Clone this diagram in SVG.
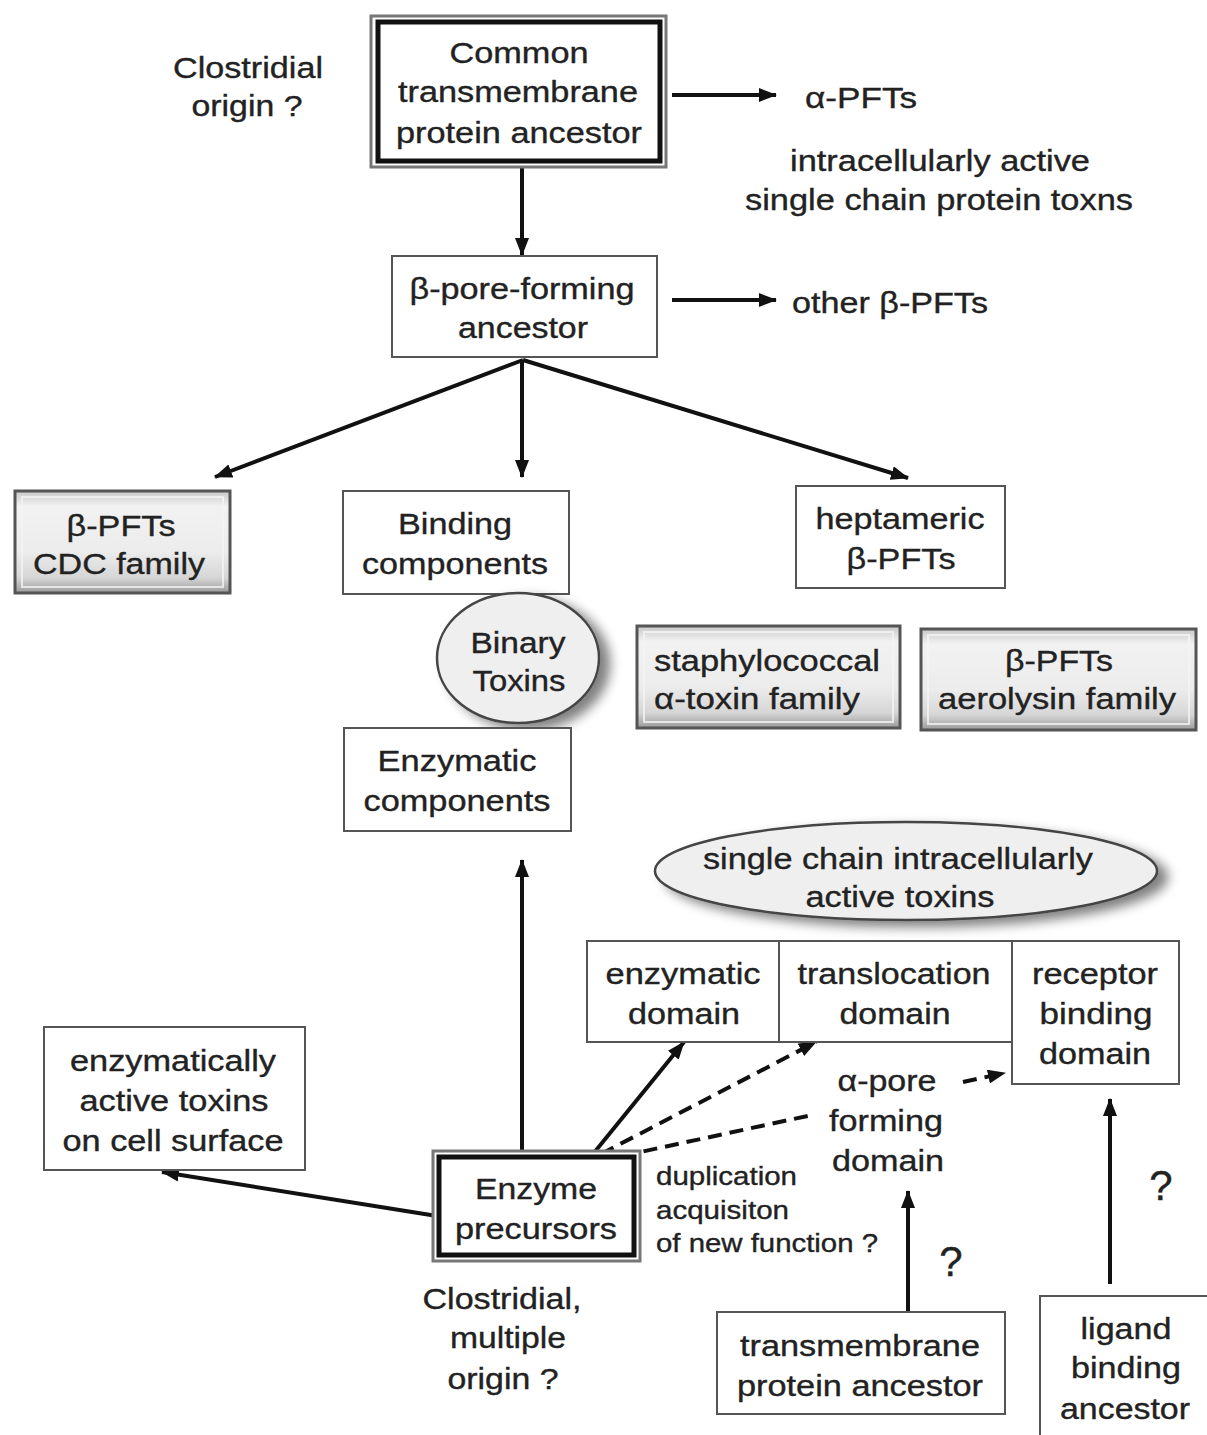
<svg xmlns="http://www.w3.org/2000/svg" width="1207" height="1435" viewBox="0 0 1207 1435">
<style>
text{font-family:"Liberation Sans",Arial,sans-serif;font-size:29px;fill:#222;text-anchor:middle;stroke:#222;stroke-width:0.35}
.s{font-size:25px;text-anchor:start}
.l{text-anchor:start}
.q{font-size:42px}
.box{fill:#fff;stroke:#555;stroke-width:2}
.bev{fill:url(#bevel);stroke:#555;stroke-width:3}
.bevin{fill:none;stroke:#f4f4f4;stroke-width:2;opacity:0.8}
.ln{stroke:#111;stroke-width:4;fill:none}
.dash{stroke:#111;stroke-width:4;fill:none;stroke-dasharray:14 8}
</style>
<defs>
<marker id="ah" viewBox="0 0 18 14" refX="17" refY="7" markerWidth="18" markerHeight="14" markerUnits="userSpaceOnUse" orient="auto">
<path d="M0,0 L18,7 L0,14 z" fill="#111"/>
</marker>
<linearGradient id="bevel" x1="0" y1="0" x2="0" y2="1">
<stop offset="0" stop-color="#c8c8c8"/>
<stop offset="0.15" stop-color="#f2f2f2"/>
<stop offset="0.6" stop-color="#ececec"/>
<stop offset="0.85" stop-color="#d6d6d6"/>
<stop offset="1" stop-color="#9a9a9a"/>
</linearGradient>
<filter id="sh" x="-20%" y="-20%" width="150%" height="150%">
<feGaussianBlur in="SourceAlpha" stdDeviation="6"/>
<feOffset dx="10" dy="6" result="b"/>
<feComponentTransfer><feFuncA type="linear" slope="0.5"/></feComponentTransfer>
<feMerge><feMergeNode/><feMergeNode in="SourceGraphic"/></feMerge>
</filter>
</defs>
<rect width="1207" height="1435" fill="#fff"/>

<g id="connectors">
<line class="ln" x1="672" y1="95" x2="776" y2="95" marker-end="url(#ah)"/>
<line class="ln" x1="522" y1="167" x2="522" y2="255" marker-end="url(#ah)"/>
<line class="ln" x1="672" y1="300" x2="776" y2="300" marker-end="url(#ah)"/>
<line class="ln" x1="523" y1="360" x2="215" y2="477" marker-end="url(#ah)"/>
<line class="ln" x1="522" y1="360" x2="522" y2="477" marker-end="url(#ah)"/>
<line class="ln" x1="523" y1="360" x2="908" y2="478" marker-end="url(#ah)"/>
<line class="ln" x1="522" y1="1156" x2="522" y2="860" marker-end="url(#ah)"/>
<line class="ln" x1="437" y1="1216" x2="162" y2="1172" marker-end="url(#ah)"/>
<line class="ln" x1="593" y1="1154" x2="684" y2="1042" marker-end="url(#ah)"/>
<line class="dash" x1="601" y1="1154" x2="816" y2="1042" marker-end="url(#ah)"/>
<line class="dash" x1="622" y1="1156" x2="812" y2="1115"/>
<line class="dash" x1="963" y1="1082" x2="1005" y2="1073" marker-end="url(#ah)"/>
<line class="ln" x1="908" y1="1312" x2="908" y2="1191" marker-end="url(#ah)"/>
<line class="ln" x1="1110" y1="1284" x2="1110" y2="1099" marker-end="url(#ah)"/>
</g>

<g id="common-ancestor">
<rect x="371" y="16" width="295" height="151" fill="#fff" stroke="#777" stroke-width="3"/>
<rect x="378" y="22" width="282" height="139" fill="#fff" stroke="#111" stroke-width="5"/>
<text x="519" y="63" textLength="139" lengthAdjust="spacingAndGlyphs">Common</text>
<text x="518" y="102" textLength="240" lengthAdjust="spacingAndGlyphs">transmembrane</text>
<text x="519" y="143" textLength="246" lengthAdjust="spacingAndGlyphs">protein ancestor</text>
</g>

<g id="clostridial-origin">
<text x="248" y="78" textLength="150" lengthAdjust="spacingAndGlyphs">Clostridial</text>
<text x="247" y="116" textLength="111" lengthAdjust="spacingAndGlyphs">origin ?</text>
</g>

<g id="alpha-pfts">
<text x="861" y="108" textLength="112" lengthAdjust="spacingAndGlyphs">α-PFTs</text>
</g>

<g id="intracellular-note">
<text x="940" y="171" textLength="300" lengthAdjust="spacingAndGlyphs">intracellularly active</text>
<text x="939" y="210" textLength="388" lengthAdjust="spacingAndGlyphs">single chain protein toxns</text>
</g>

<g id="beta-pore-ancestor">
<rect class="box" x="392" y="256" width="265" height="101"/>
<text x="522" y="299" textLength="225" lengthAdjust="spacingAndGlyphs">β-pore-forming</text>
<text x="523" y="338" textLength="130" lengthAdjust="spacingAndGlyphs">ancestor</text>
</g>

<g id="other-beta-pfts">
<text x="890" y="313" textLength="196" lengthAdjust="spacingAndGlyphs">other β-PFTs</text>
</g>

<g id="cdc-family">
<rect class="bev" x="15" y="491" width="215" height="102"/>
<rect class="bevin" x="22" y="497" width="201" height="90"/>
<text x="121" y="536" textLength="109" lengthAdjust="spacingAndGlyphs">β-PFTs</text>
<text x="119" y="574" textLength="172" lengthAdjust="spacingAndGlyphs">CDC family</text>
</g>

<g id="binding-components">
<rect class="box" x="343" y="491" width="226" height="103"/>
<text x="455" y="534" textLength="114" lengthAdjust="spacingAndGlyphs">Binding</text>
<text x="455" y="574" textLength="186" lengthAdjust="spacingAndGlyphs">components</text>
</g>

<g id="binary-toxins">
<ellipse cx="518" cy="658" rx="81" ry="65" fill="#efefef" stroke="#444" stroke-width="2.5" filter="url(#sh)"/>
<text x="518" y="653" textLength="95" lengthAdjust="spacingAndGlyphs">Binary</text>
<text x="519" y="691" textLength="93" lengthAdjust="spacingAndGlyphs">Toxins</text>
</g>

<g id="enzymatic-components">
<rect class="box" x="344" y="728" width="227" height="103"/>
<text x="457" y="771" textLength="159" lengthAdjust="spacingAndGlyphs">Enzymatic</text>
<text x="457" y="811" textLength="187" lengthAdjust="spacingAndGlyphs">components</text>
</g>

<g id="heptameric">
<rect class="box" x="796" y="486" width="209" height="102"/>
<text x="900" y="529" textLength="169" lengthAdjust="spacingAndGlyphs">heptameric</text>
<text x="901" y="569" textLength="109" lengthAdjust="spacingAndGlyphs">β-PFTs</text>
</g>

<g id="staphylococcal">
<rect class="bev" x="637" y="626" width="263" height="102"/>
<rect class="bevin" x="644" y="632" width="249" height="90"/>
<text class="l" x="654" y="671" textLength="226" lengthAdjust="spacingAndGlyphs">staphylococcal</text>
<text class="l" x="654" y="709" textLength="206" lengthAdjust="spacingAndGlyphs">α-toxin family</text>
</g>

<g id="aerolysin">
<rect class="bev" x="921" y="629" width="275" height="101"/>
<rect class="bevin" x="928" y="635" width="261" height="89"/>
<text x="1059" y="671" textLength="108" lengthAdjust="spacingAndGlyphs">β-PFTs</text>
<text x="1057" y="709" textLength="238" lengthAdjust="spacingAndGlyphs">aerolysin family</text>
</g>

<g id="single-chain">
<ellipse cx="906" cy="871" rx="251" ry="49" fill="#efefef" stroke="#444" stroke-width="2.5" filter="url(#sh)"/>
<text x="898" y="869" textLength="390" lengthAdjust="spacingAndGlyphs">single chain intracellularly</text>
<text x="900" y="907" textLength="189" lengthAdjust="spacingAndGlyphs">active toxins</text>
</g>

<g id="enzymatic-domain">
<rect class="box" x="587" y="941" width="192" height="101"/>
<text x="683" y="984" textLength="155" lengthAdjust="spacingAndGlyphs">enzymatic</text>
<text x="684" y="1024" textLength="112" lengthAdjust="spacingAndGlyphs">domain</text>
</g>

<g id="translocation-domain">
<rect class="box" x="779" y="941" width="233" height="101"/>
<text x="894" y="984" textLength="193" lengthAdjust="spacingAndGlyphs">translocation</text>
<text x="895" y="1024" textLength="111" lengthAdjust="spacingAndGlyphs">domain</text>
</g>

<g id="receptor-domain">
<rect class="box" x="1012" y="941" width="167" height="143"/>
<text x="1095" y="984" textLength="126" lengthAdjust="spacingAndGlyphs">receptor</text>
<text x="1096" y="1024" textLength="113" lengthAdjust="spacingAndGlyphs">binding</text>
<text x="1095" y="1064" textLength="112" lengthAdjust="spacingAndGlyphs">domain</text>
</g>

<g id="alpha-pore-domain">
<text x="887" y="1091" textLength="99" lengthAdjust="spacingAndGlyphs">α-pore</text>
<text x="886" y="1131" textLength="114" lengthAdjust="spacingAndGlyphs">forming</text>
<text x="888" y="1171" textLength="112" lengthAdjust="spacingAndGlyphs">domain</text>
</g>

<g id="duplication-note">
<text class="s" x="656" y="1185" textLength="141" lengthAdjust="spacingAndGlyphs">duplication</text>
<text class="s" x="656" y="1219" textLength="133" lengthAdjust="spacingAndGlyphs">acquisiton</text>
<text class="s" x="656" y="1252" textLength="222" lengthAdjust="spacingAndGlyphs">of new function ?</text>
</g>

<g id="enzymatically-active">
<rect class="box" x="44" y="1027" width="261" height="143"/>
<text x="173" y="1071" textLength="206" lengthAdjust="spacingAndGlyphs">enzymatically</text>
<text x="174" y="1111" textLength="189" lengthAdjust="spacingAndGlyphs">active toxins</text>
<text x="173" y="1151" textLength="221" lengthAdjust="spacingAndGlyphs">on cell surface</text>
</g>

<g id="enzyme-precursors">
<rect x="433" y="1151" width="207" height="110" fill="#fff" stroke="#777" stroke-width="3"/>
<rect x="439" y="1157" width="195" height="98" fill="#fff" stroke="#111" stroke-width="5"/>
<text x="536" y="1199" textLength="122" lengthAdjust="spacingAndGlyphs">Enzyme</text>
<text x="536" y="1239" textLength="162" lengthAdjust="spacingAndGlyphs">precursors</text>
</g>

<g id="clostridial-multiple">
<text x="502" y="1309" textLength="159" lengthAdjust="spacingAndGlyphs">Clostridial,</text>
<text x="508" y="1348" textLength="116" lengthAdjust="spacingAndGlyphs">multiple</text>
<text x="503" y="1389" textLength="111" lengthAdjust="spacingAndGlyphs">origin ?</text>
</g>

<g id="transmembrane-ancestor">
<rect class="box" x="717" y="1312" width="288" height="102"/>
<text x="860" y="1356" textLength="240" lengthAdjust="spacingAndGlyphs">transmembrane</text>
<text x="860" y="1396" textLength="246" lengthAdjust="spacingAndGlyphs">protein ancestor</text>
</g>

<g id="ligand-ancestor">
<rect class="box" x="1040" y="1296" width="170" height="145"/>
<text x="1126" y="1339" textLength="91" lengthAdjust="spacingAndGlyphs">ligand</text>
<text x="1126" y="1378" textLength="110" lengthAdjust="spacingAndGlyphs">binding</text>
<text x="1125" y="1419" textLength="130" lengthAdjust="spacingAndGlyphs">ancestor</text>
</g>

<g id="question-marks">
<text class="q" x="951" y="1276">?</text>
<text class="q" x="1161" y="1200">?</text>
</g>
</svg>
